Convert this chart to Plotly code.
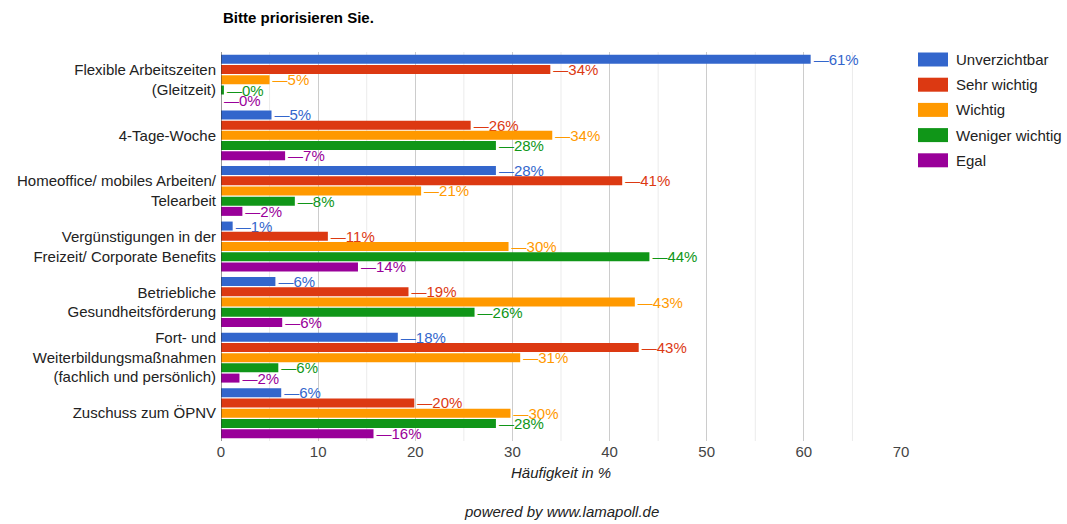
import plotly.graph_objects as go

# Categories (top to bottom) and response shares in percent
categories = [
    "Flexible Arbeitszeiten<br>(Gleitzeit)",
    "4-Tage-Woche",
    "Homeoffice/ mobiles Arbeiten/<br>Telearbeit",
    "Vergünstigungen in der<br>Freizeit/ Corporate Benefits",
    "Betriebliche<br>Gesundheitsförderung",
    "Fort- und<br>Weiterbildungsmaßnahmen<br>(fachlich und persönlich)",
    "Zuschuss zum ÖPNV",
]

series_names = ["Unverzichtbar", "Sehr wichtig", "Wichtig", "Weniger wichtig", "Egal"]
series_colors = ["#3366cc", "#dc3912", "#ff9900", "#109618", "#990099"]

unverzichtbar = [60.7, 5.2, 28.3, 1.2, 5.6, 18.2, 6.2]
sehr_wichtig = [33.9, 25.7, 41.3, 11.0, 19.3, 43.0, 19.9]
wichtig = [5.0, 34.1, 20.6, 29.6, 42.6, 30.8, 29.8]
weniger_wichtig = [0.3, 28.3, 7.6, 44.1, 26.1, 5.9, 28.3]
egal = [0.0, 6.6, 2.2, 14.1, 6.3, 1.9, 15.7]

series_values = [unverzichtbar, sehr_wichtig, wichtig, weniger_wichtig, egal]

x_ticks = [0, 10, 20, 30, 40, 50, 60, 70]

FONT = "Arial, 'Liberation Sans', sans-serif"


def pct(v):
    # round half up, as shown in the value labels
    return int(v + 0.5)


fig = go.Figure()

for name, color, values in zip(series_names, series_colors, series_values):
    fig.add_trace(go.Bar(
        name=name,
        y=categories,
        x=values,
        orientation="h",
        marker=dict(color=color, line=dict(width=0)),
        text=[f"\u2014{pct(v)}%" for v in values],
        textposition="outside",
        textfont=dict(family=FONT, size=15, color=color),
        constraintext="none",
        cliponaxis=False,
        showlegend=False,
        hovertemplate="%{y}: %{x:.0f}%<extra>" + name + "</extra>",
    ))

# Plot-area geometry in pixels (used for placing the legend and captions)
L, R, T, B = 221, 901, 52, 441
W, H = R - L, B - T


def px_x(x):
    return (x - L) / W


def px_y(y):
    return (B - y) / H


shapes = []
annotations = []

# Minor gridlines at every 5 %
for v in range(5, 70, 10):
    shapes.append(dict(type="line", xref="x", yref="paper", x0=v, x1=v, y0=0, y1=1,
                       line=dict(color="#ebebeb", width=1), layer="below"))

# Legend drawn as coloured boxes with labels to the right of the plot
for i, (name, color) in enumerate(zip(series_names, series_colors)):
    cy = 59.5 + i * 25.2
    shapes.append(dict(type="rect", xref="paper", yref="paper",
                       x0=px_x(918), x1=px_x(948), y0=px_y(cy - 7), y1=px_y(cy + 7),
                       fillcolor=color, line=dict(width=0)))
    annotations.append(dict(xref="paper", yref="paper", x=px_x(954), y=px_y(cy),
                            text=name, showarrow=False, xanchor="left", yanchor="middle",
                            font=dict(family=FONT, size=15, color="#222222")))

# Title
annotations.append(dict(xref="paper", yref="paper", x=px_x(221), y=px_y(17),
                        text="<b>Bitte priorisieren Sie.</b>", showarrow=False,
                        xanchor="left", yanchor="middle",
                        font=dict(family=FONT, size=15, color="#000000")))

# Axis title
annotations.append(dict(xref="paper", yref="paper", x=0.5, y=px_y(472),
                        text="<i>Häufigkeit in %</i>", showarrow=False,
                        xanchor="center", yanchor="middle",
                        font=dict(family=FONT, size=15, color="#222222")))

# Footer
annotations.append(dict(xref="paper", yref="paper", x=0.5, y=px_y(512),
                        text="<i>powered by www.lamapoll.de</i>", showarrow=False,
                        xanchor="center", yanchor="middle",
                        font=dict(family=FONT, size=15, color="#222222")))

fig.update_layout(
    width=1067,
    height=524,
    margin=dict(l=L, r=1067 - R, t=T, b=524 - B, pad=0),
    paper_bgcolor="white",
    plot_bgcolor="white",
    barmode="group",
    bargap=0.08,
    bargroupgap=0.12,
    font=dict(family=FONT, size=15, color="#222222"),
    shapes=shapes,
    annotations=annotations,
    xaxis=dict(
        range=[0, 70],
        tickvals=x_ticks,
        ticktext=[str(t) for t in x_ticks],
        showgrid=True,
        gridcolor="#cccccc",
        gridwidth=1,
        zeroline=False,
        showline=False,
        ticks="",
        tickfont=dict(family=FONT, size=15, color="#444444"),
        fixedrange=True,
    ),
    yaxis=dict(
        autorange="reversed",
        showgrid=False,
        zeroline=False,
        showline=False,
        ticks="",
        ticklabelstandoff=4,
        tickfont=dict(family=FONT, size=15, color="#222222"),
        fixedrange=True,
    ),
)

# Baseline at zero
fig.add_shape(type="line", xref="x", yref="paper", x0=0, x1=0, y0=0, y1=1,
              line=dict(color="#333333", width=1))

fig.write_html("out.html")
